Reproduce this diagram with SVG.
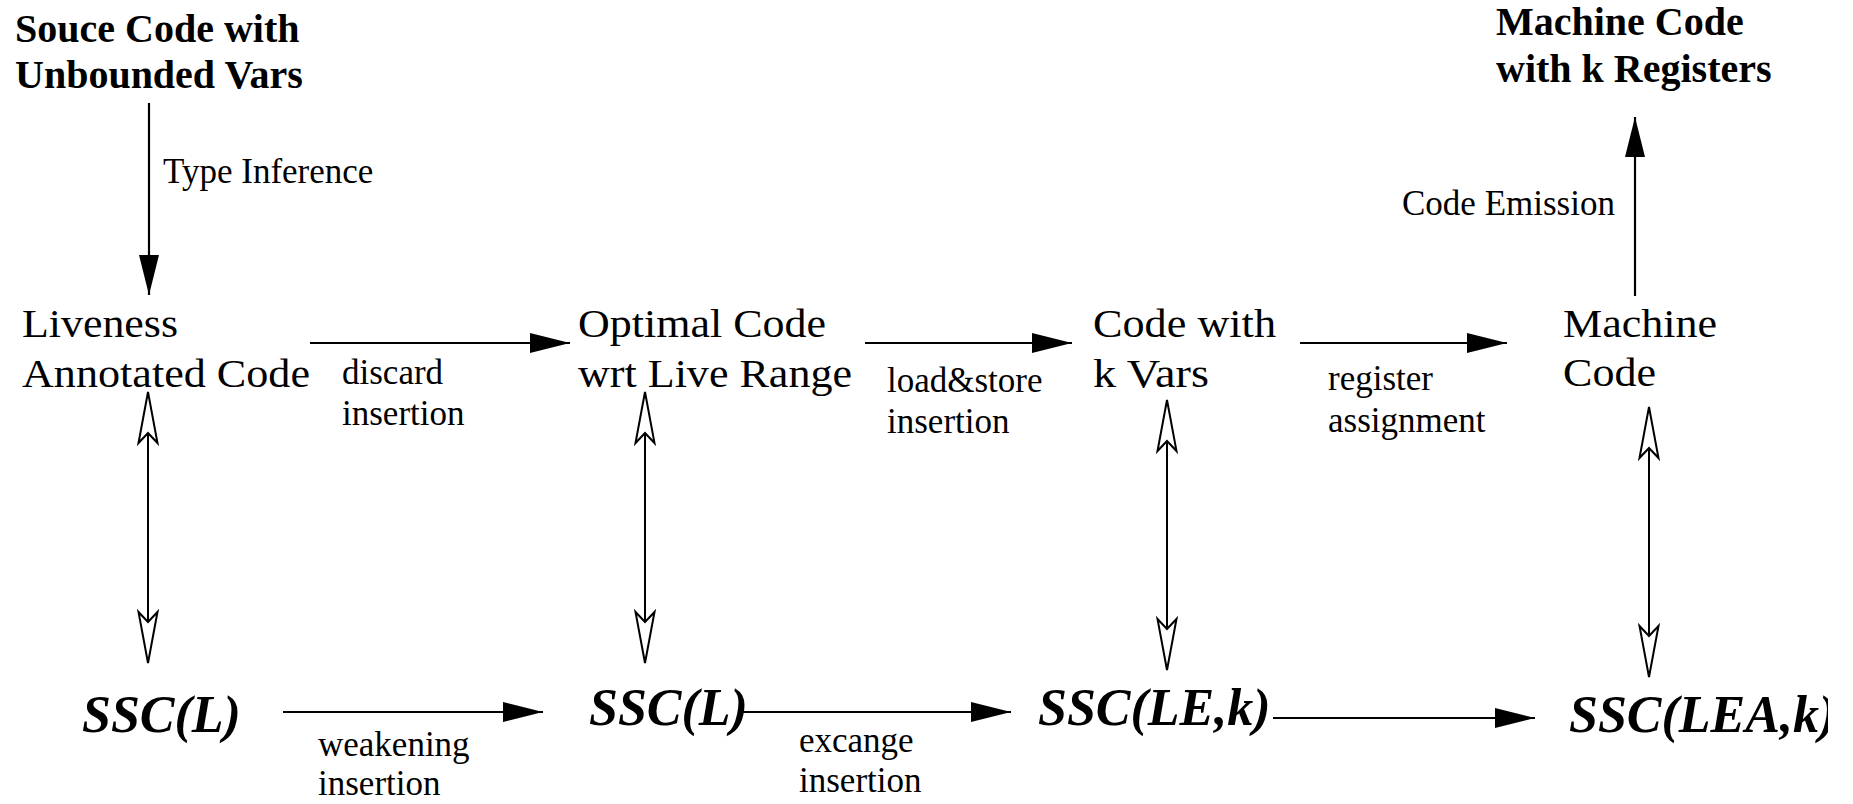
<svg xmlns="http://www.w3.org/2000/svg" width="1853" height="804" viewBox="0 0 1853 804">
<style>
  .title { font-family: "Liberation Serif", "Times New Roman", serif; font-weight: bold; font-size: 40px; fill: #000; }
  .node { font-family: "Liberation Serif", "Times New Roman", serif; font-size: 39px; fill: #000; }
  .lbl { font-family: "Liberation Serif", "Times New Roman", serif; font-size: 35px; fill: #000; }
  .ssc { font-family: "Liberation Serif", "Times New Roman", serif; font-weight: bold; font-style: italic; font-size: 52px; fill: #000; }
  .edge { stroke: #000; stroke-width: 2.2; fill: none; }
  .solid { marker-end: url(#fill-arrow); }
  .dbl { marker-start: url(#open-arrow); marker-end: url(#open-arrow); stroke-width: 2; }
</style>
<defs>
  <marker id="fill-arrow" markerUnits="userSpaceOnUse" markerWidth="42" markerHeight="22" refX="40" refY="10" orient="auto" overflow="visible">
    <path d="M0,0 L40,10 L0,20 Z" fill="#000" stroke="none"/>
  </marker>
  <marker id="open-arrow" markerUnits="userSpaceOnUse" markerWidth="53" markerHeight="21" refX="51" refY="9.5" orient="auto-start-reverse" overflow="visible">
    <path d="M0,0 L51,9.5 L0,19 L10,9.5 Z" fill="#fff" stroke="#000" stroke-width="2" stroke-linejoin="miter"/>
  </marker>
  <clipPath id="rclip"><rect x="0" y="0" width="1828" height="804"/></clipPath>
</defs>
<rect x="0" y="0" width="1853" height="804" fill="#fff"/>

<g id="connectors">
  <line class="edge solid" x1="149" y1="103" x2="149" y2="295"/>
  <line class="edge solid" x1="1635" y1="296" x2="1635" y2="117"/>
  <line class="edge solid" x1="310" y1="343" x2="570" y2="343"/>
  <line class="edge solid" x1="865" y1="343" x2="1072" y2="343"/>
  <line class="edge solid" x1="1300" y1="343" x2="1507" y2="343"/>
  <line class="edge solid" x1="283" y1="712" x2="543" y2="712"/>
  <line class="edge solid" x1="743" y1="712" x2="1011" y2="712"/>
  <line class="edge solid" x1="1273" y1="718" x2="1535" y2="718"/>
  <line class="edge dbl" x1="148" y1="392" x2="148" y2="663"/>
  <line class="edge dbl" x1="645" y1="392" x2="645" y2="663"/>
  <line class="edge dbl" x1="1167" y1="400" x2="1167" y2="670"/>
  <line class="edge dbl" x1="1649" y1="407" x2="1649" y2="677"/>
</g>

<g id="edge-labels">
  <text class="lbl" x="163" y="183">Type Inference</text>
  <text class="lbl" x="1402" y="215">Code Emission</text>
  <text class="lbl" x="342" y="384">discard</text>
  <text class="lbl" x="342" y="425">insertion</text>
  <text class="lbl" x="887" y="392">load&amp;store</text>
  <text class="lbl" x="887" y="433">insertion</text>
  <text class="lbl" x="1328" y="390">register</text>
  <text class="lbl" x="1328" y="432">assignment</text>
  <text class="lbl" x="318" y="756">weakening</text>
  <text class="lbl" x="318" y="795">insertion</text>
  <text class="lbl" x="799" y="752">excange</text>
  <text class="lbl" x="799" y="792">insertion</text>
</g>

<g id="source">
  <text class="title" x="15" y="42">Souce Code with</text>
  <text class="title" x="15" y="88">Unbounded Vars</text>
</g>
<g id="machine-k">
  <text class="title" x="1496" y="35">Machine Code</text>
  <text class="title" x="1496" y="82">with k Registers</text>
</g>
<g id="liveness">
  <text class="node" x="22" y="337" textLength="156" lengthAdjust="spacingAndGlyphs">Liveness</text>
  <text class="node" x="22" y="387" textLength="288" lengthAdjust="spacingAndGlyphs">Annotated Code</text>
</g>
<g id="optimal">
  <text class="node" x="578" y="337" textLength="248" lengthAdjust="spacingAndGlyphs">Optimal Code</text>
  <text class="node" x="578" y="387" textLength="274" lengthAdjust="spacingAndGlyphs">wrt Live Range</text>
</g>
<g id="kvars">
  <text class="node" x="1093" y="337" textLength="183" lengthAdjust="spacingAndGlyphs">Code with</text>
  <text class="node" x="1093" y="387" textLength="116" lengthAdjust="spacingAndGlyphs">k Vars</text>
</g>
<g id="machine">
  <text class="node" x="1563" y="337" textLength="154" lengthAdjust="spacingAndGlyphs">Machine</text>
  <text class="node" x="1563" y="386" textLength="93" lengthAdjust="spacingAndGlyphs">Code</text>
</g>
<g id="ssc-l1">
  <text class="ssc" x="82" y="732">SSC(L)</text>
</g>
<g id="ssc-l2">
  <text class="ssc" x="589" y="725">SSC(L)</text>
</g>
<g id="ssc-lek">
  <text class="ssc" x="1038" y="725">SSC(LE,k)</text>
</g>
<g id="ssc-leak" clip-path="url(#rclip)">
  <text class="ssc" x="1569" y="732">SSC(LEA,k)</text>
</g>
</svg>
